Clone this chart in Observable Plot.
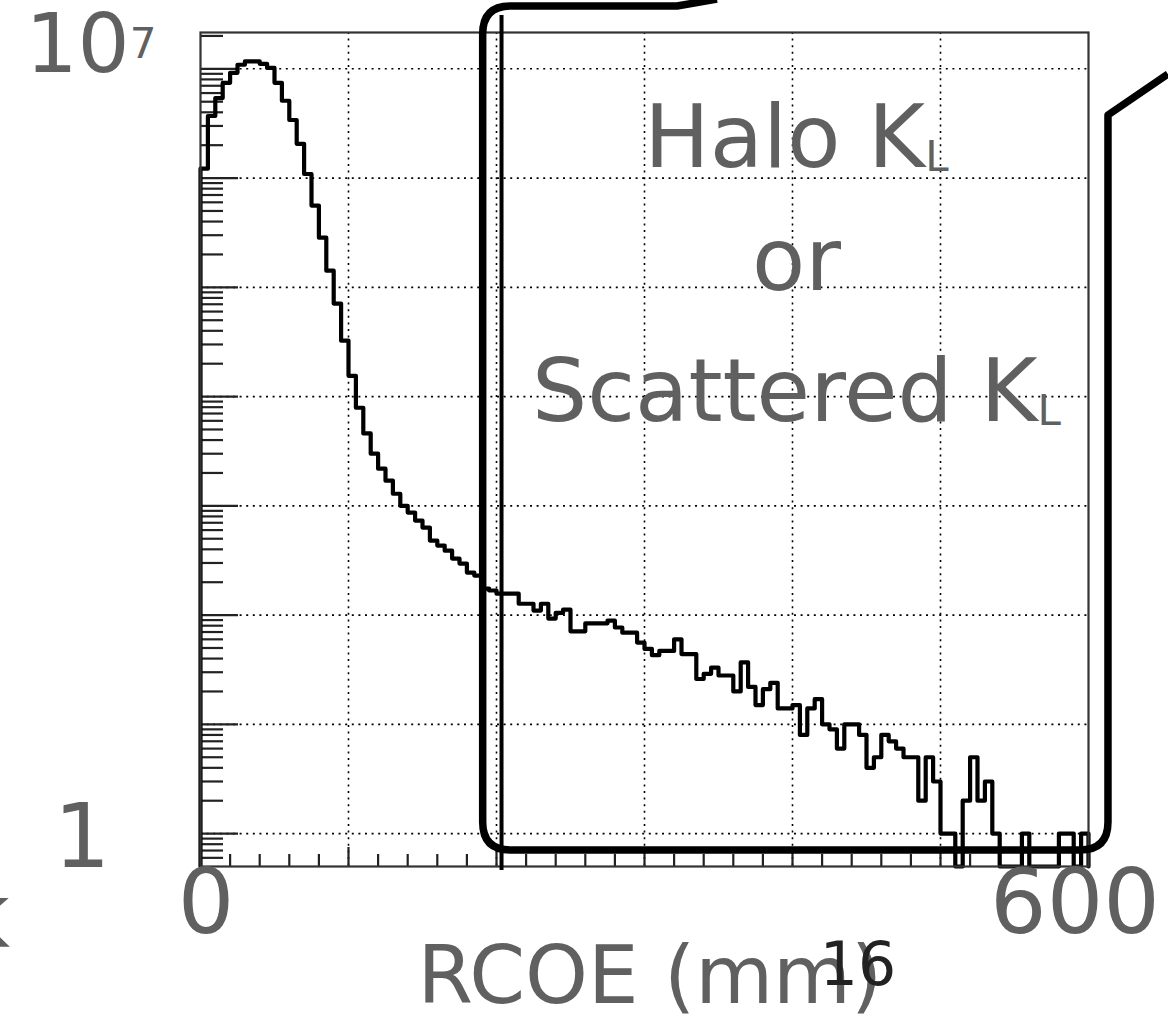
<!DOCTYPE html>
<html>
<head>
<meta charset="utf-8">
<script src="https://cdn.jsdelivr.net/npm/d3@7"></script>
<script src="https://cdn.jsdelivr.net/npm/@observablehq/plot@0.6"></script>
<style>
  html, body { margin: 0; padding: 0; background: #fff; }
  svg { display: block; }
</style>
</head>
<body>
<div id="chart"></div>
<script>
// ---------------- data ----------------
const binWidth = 5; // mm
// counts per 5 mm RCOE bin, 0..600 mm (120 bins)
const counts = [
  1.22e6, 3.7e6, 5.4e6, 7.45e6, 9.2e6, 1.09e7, 1.17e7, 1.17e7, 1.11e7, 1.02e7,
  7.45e6, 5.1e6, 3.4e6, 2.06e6, 1.09e6, 5.6e5, 2.85e5, 1.42e5, 7.1e4, 3.25e4,
  1.55e4, 7900, 4600, 3000, 2190, 1700, 1290, 1000, 867, 733,
  632, 481, 433, 389, 329, 296, 245, 230, 175, 168,
  157, 157, 157, 127, 127, 110, 127, 93, 105, 112,
  71, 71, 84, 84, 84, 89, 77, 69, 69, 56,
  49, 43, 47, 47, 60, 44, 44, 26, 29, 33,
  28, 28, 20, 37, 22, 15, 21, 24, 14, 14,
  15, 8, 14, 17, 10, 9, 6, 10, 10, 8,
  4, 5, 8, 7, 6, 5, 5, 2, 5, 3,
  1, 1, 0, 2, 5, 2, 3, 1, 0, 0,
  0, 1, 0, 0, 0, 0, 1, 1, 0, 1
];
const xDomain = [0, 600];
const yDomain = [0.5, 2.15e7];
const xGrid = [100, 200, 300, 400, 500];
const xMajorTicks = [0, 100, 200, 300, 400, 500, 600];
const xMinorTicks = d3.range(0, 601, 20).filter(v => v % 100 !== 0);
const yDecades = [1, 10, 100, 1e3, 1e4, 1e5, 1e6, 1e7];
const yMinorTicks = [];
for (let e = -1; e <= 7; e++) for (let m = 2; m <= 9; m++) {
  const v = m * Math.pow(10, e);
  if (v > yDomain[0] && v < yDomain[1]) yMinorTicks.push(v);
}
const xTickLabels = [{v: 0, t: "0"}, {v: 600, t: "600"}];
const yTickLabels = [{v: 1, t: "1", sup: ""}, {v: 1e7, t: "10", sup: "7"}];
const xTitle = "RCOE (mm)";
const cutValue = 203.4;          // mm, vertical cut line
const annotations = [
  {t: "Halo K", sub: "L", x: 403, y: 1.24e6},
  {t: "or", sub: "", x: 403, y: 9.3e4},
  {t: "Scattered K", sub: "L", x: 403, y: 5.9e3}
];

// ---------------- build ----------------
const W = 1168, H = 1014;
const mL = 200, mR = 80, mT = 32, mB = 148;
const innerW = W - mL - mR, innerH = H - mT - mB;
const gray = "#606060";
const FONT = "DejaVu Sans";

const steps = [{x: 0, y: 0}]
  .concat(counts.map((c, i) => ({x: i * binWidth, y: c})))
  .concat([{x: 600, y: counts[counts.length - 1]}, {x: 600, y: 0}]);

const dots = "2,4.6";
const plot = Plot.plot({
  width: W, height: H,
  marginLeft: mL, marginRight: mR, marginTop: mT, marginBottom: mB,
  style: {background: "#fff", fontFamily: FONT},
  x: {domain: xDomain, axis: null},
  y: {type: "log", domain: yDomain, axis: null},
  marks: [
    Plot.ruleY(yDecades, {stroke: "#000", strokeWidth: 1.6, strokeDasharray: dots}),
    Plot.ruleX(xGrid, {stroke: "#000", strokeWidth: 1.6, strokeDasharray: dots}),
    Plot.tickY(yDecades, {stroke: "#222", strokeWidth: 2.2, insetRight: innerW - 38}),
    Plot.tickY(yMinorTicks, {stroke: "#222", strokeWidth: 2.2, insetRight: innerW - 23}),
    Plot.tickX(xMajorTicks, {stroke: "#222", strokeWidth: 2.2, insetTop: innerH - 19}),
    Plot.tickX(xMinorTicks, {stroke: "#222", strokeWidth: 2.2, insetTop: innerH - 12}),
    Plot.line(steps, {
      x: "x", y: d => Math.max(d.y, yDomain[0]),
      curve: "step-after", stroke: "#000", strokeWidth: 4.2
    }),
    Plot.frame({stroke: "#333", strokeWidth: 2.2}),
    Plot.ruleX([cutValue], {y1: 0.459, y2: 3.08e7, stroke: "#000", strokeWidth: 4})
  ]
});

const svg = d3.select(plot);
const X = plot.scale("x").apply, Y = plot.scale("y").apply;

// callout box (speech-bubble outline)
const cL = X(191), cR = X(613.5), cT = Y(3.72e7), cB = Y(0.70), r = 28;
const p = d3.path();
p.moveTo(X(349.3), Y(4.3e7));
p.lineTo(X(322.3), cT);
p.lineTo(cL + r, cT);
p.quadraticCurveTo(cL, cT, cL, cT + r);
p.lineTo(cL, cB - r);
p.quadraticCurveTo(cL, cB, cL + r, cB);
p.lineTo(cR - r, cB);
p.quadraticCurveTo(cR, cB, cR, cB - r);
p.lineTo(cR, Y(3.74e6));
p.lineTo(X(654), Y(8.87e6));
svg.append("path").attr("d", p.toString())
  .attr("fill", "none").attr("stroke", "#000").attr("stroke-width", 7.5)
  .attr("stroke-linejoin", "round");

const g = svg.append("g").attr("font-family", FONT);
function addText(str, opt) {
  const t = g.append("text")
    .attr("x", opt.x).attr("y", opt.y)
    .attr("text-anchor", opt.anchor || "middle")
    .attr("font-size", opt.size)
    .attr("fill", opt.fill || gray);
  t.append("tspan").text(str);
  if (opt.extra) {
    t.append("tspan").attr("font-size", opt.extraSize).attr("dy", opt.extraDy).text(opt.extra);
  }
  return t;
}

// y tick labels
addText(yTickLabels[0].t, {x: X(0) - 118, y: Y(yTickLabels[0].v) + 34, size: 89});
addText(yTickLabels[1].t, {x: X(0) - 109, y: Y(yTickLabels[1].v) + 4, size: 82,
  extra: yTickLabels[1].sup, extraSize: 42, extraDy: -14});
// x tick labels
addText(xTickLabels[0].t, {x: X(xTickLabels[0].v) + 6, y: Y(yDomain[0]) + 67, size: 89});
addText(xTickLabels[1].t, {x: X(xTickLabels[1].v) - 13, y: Y(yDomain[0]) + 67, size: 89});
// axis title
addText(xTitle, {x: X(304), y: Y(yDomain[0]) + 137, size: 80});
// page number and clipped letter
addText("16", {x: X(444.6), y: Y(yDomain[0]) + 119, size: 60, fill: "#222"});
addText("k", {x: X(0) - 190, y: Y(yDomain[0]) + 81, size: 89, anchor: "end"});

// annotations
for (const a of annotations) {
  addText(a.t, {x: X(a.x), y: Y(a.y), size: 87,
    extra: a.sub, extraSize: 42, extraDy: 4});
}

document.getElementById("chart").appendChild(plot);
</script>
</body>
</html>
